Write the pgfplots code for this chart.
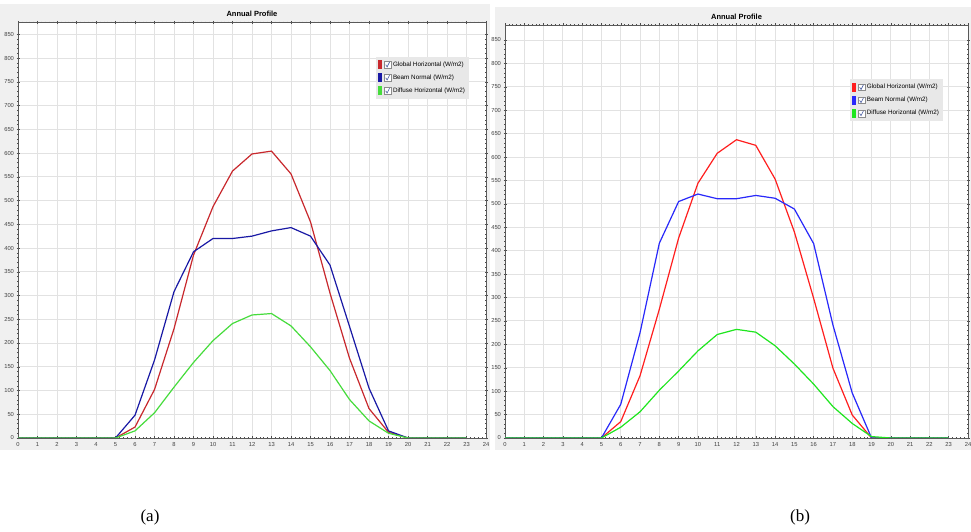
\documentclass[border=0pt]{standalone}
\usepackage{pgfplots}
\pgfplotsset{compat=1.18}
\usepackage{fontspec}
\setmainfont{Liberation Sans}
\newfontfamily\seriffont{Liberation Serif}
\definecolor{panelbg}{RGB}{240,240,240}
\definecolor{gridc}{RGB}{226,226,226}
\definecolor{redA}{RGB}{200,40,45}
\definecolor{blueA}{RGB}{25,25,165}
\definecolor{greenA}{RGB}{70,220,60}
\definecolor{redB}{RGB}{255,30,30}
\definecolor{blueB}{RGB}{40,40,250}
\definecolor{greenB}{RGB}{30,230,30}
\definecolor{legbg}{RGB}{232,232,232}
\definecolor{checkc}{RGB}{70,90,160}

\pgfplotstableread{
x r b g
0 0 0 0
1 0 0 0
2 0 0 0
3 0 0 0
4 0 0 0
5 0 0 0
6 23 48 15
7 102 164 53
8 230 308 107
9 385 392 159
10 487 420 205
11 562 420 241
12 598 425 259
13 604 436 262
14 556 443 236
15 455 425 192
16 305 364 142
17 168 235 81
18 62 105 36
19 12 15 10
20 0 0 0
21 0 0 0
22 0 0 0
23 0 0 0
}\dataA

\pgfplotstableread{
x r b g
0 0 0 0
1 0 0 0
2 0 0 0
3 0 0 0
4 0 0 0
5 0 0 0
6 35 72 23
7 133 225 56
8 275 416 102
9 427 505 143
10 544 521 186
11 608 511 221
12 637 511 232
13 625 518 226
14 553 512 197
15 440 489 158
16 298 415 115
17 149 241 67
18 49 96 31
19 0 0 3
20 0 0 0
21 0 0 0
22 0 0 0
23 0 0 0
}\dataB

\pgfplotsset{
  panel/.style={
    scale only axis,
    xmin=0, xmax=24, ymin=0,
    xtick={0,1,...,24},
    ytick={0,50,...,850},
    minor x tick num=4,
    minor y tick num=4,
    tick align=center,
    major tick length=3pt,
    minor tick length=1.5pt,
    tick style={color=black!70, line width=0.5pt},
    axis line style={color=black!65, line width=0.6pt},
    grid=major,
    major grid style={color=gridc, line width=0.9pt},
    axis background/.style={fill=white},
    ticklabel style={font=\fontsize{5.8}{6}\selectfont, color=black!75},
    /pgf/number format/assume math mode=true,
    /pgf/number format/1000 sep={},
    xticklabel style={yshift=1pt},
    yticklabel style={xshift=1pt},
    title style={font=\bfseries\fontsize{7.5}{8}\selectfont, anchor=south, yshift=-4pt},
    legend cell align=left,
    legend style={fill=legbg, draw=none, font=\fontsize{6.3}{7}\selectfont,
      row sep=3pt, inner xsep=2pt, inner ysep=3pt, anchor=north west},
    legend image code/.code={
      \fill (0pt,-4pt) rectangle (2.8pt,4pt);
      \draw[draw=black!45, fill=white, line width=0.4pt] (5.5pt,-3.3pt) rectangle (12pt,3.3pt);
      \draw[draw=checkc, line width=0.6pt] (6.9pt,0pt) -- (8.3pt,-2.2pt) -- (10.7pt,2.6pt);
    },
    every axis plot/.append style={line width=1.2pt, mark=none},
  }
}

\begin{document}
\begin{tikzpicture}[x=1pt,y=1pt]
\path[use as bounding box] (0,0) rectangle (971,532);
\fill[white] (0,0) rectangle (971,532);
% panel backgrounds
\fill[panelbg] (0,82) rectangle (490,528);
\fill[panelbg] (495,82) rectangle (971,525);

\begin{axis}[panel,
  at={(18pt,94pt)}, anchor=south west,
  width=468pt, height=415.6pt, ymax=875,
  title={Annual Profile},
  legend style={at={(0.765,0.918)}},
]
\addplot[color=redA] table[x=x,y=r] {\dataA};
\addplot[color=blueA] table[x=x,y=b] {\dataA};
\addplot[color=greenA] table[x=x,y=g] {\dataA};
\legend{Global Horizontal (W/m2),Beam Normal (W/m2),Diffuse Horizontal (W/m2)}
\end{axis}

\begin{axis}[panel,
  at={(505pt,94pt)}, anchor=south west,
  width=463pt, height=413pt, ymax=882,
  title={Annual Profile},
  legend style={at={(0.745,0.869)}},
]
\addplot[color=redB] table[x=x,y=r] {\dataB};
\addplot[color=blueB] table[x=x,y=b] {\dataB};
\addplot[color=greenB] table[x=x,y=g] {\dataB};
\legend{Global Horizontal (W/m2),Beam Normal (W/m2),Diffuse Horizontal (W/m2)}
\end{axis}

\node[font=\seriffont\fontsize{17}{18}\selectfont] at (150,15) {(a)};
\node[font=\seriffont\fontsize{17}{18}\selectfont] at (800,15) {(b)};
\end{tikzpicture}
\end{document}
